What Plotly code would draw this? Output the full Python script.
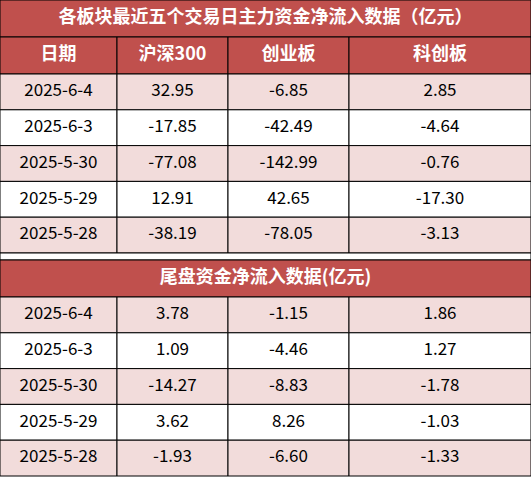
import plotly.graph_objects as go

# -------- DATOS --------
title1 = "各板块最近五个交易日主力资金净流入数据（亿元）"
title2 = "尾盘资金净流入数据(亿元)"
columns = ["日期", "沪深300", "创业板", "科创板"]
dates = ["2025-6-4", "2025-6-3", "2025-5-30", "2025-5-29", "2025-5-28"]
main_hs300 = ["32.95", "-17.85", "-77.08", "12.91", "-38.19"]
main_cyb = ["-6.85", "-42.49", "-142.99", "42.65", "-78.05"]
main_kcb = ["2.85", "-4.64", "-0.76", "-17.30", "-3.13"]
tail_hs300 = ["3.78", "1.09", "-14.27", "3.62", "-1.93"]
tail_cyb = ["-1.15", "-4.46", "-8.83", "8.26", "-6.60"]
tail_kcb = ["1.86", "1.27", "-1.78", "-1.03", "-1.33"]

RED = "#C0504D"
PINK = "#F2DCDB"
W, H = 531, 477
col_x = [0, 117, 228, 349, 531]
row_h = 35.8
font = "Noto Sans CJK SC"

shapes = []
tx, ty, tt, tc, ts = [], [], [], [], []

def cell(x0, x1, y0, y1, fill):
    shapes.append(dict(type="rect", xref="x", yref="y", x0=x0, x1=x1, y0=y0, y1=y1,
                       fillcolor=fill, line=dict(color="black", width=1), layer="below"))

def text(x, y, s, color="black", size=17):
    tx.append(x); ty.append(y); tt.append(s); tc.append(color); ts.append(size)

def block(top, title, header, cols):
    cell(0, W, top, top + 37, RED)
    text(W / 2, top + 18.5, "<b>" + title + "</b>", "white", 18)
    y = top + 37
    if header:
        for j, c in enumerate(columns):
            cell(col_x[j], col_x[j + 1], y, y + 37, RED)
            text((col_x[j] + col_x[j + 1]) / 2, y + 18.5, "<b>" + c + "</b>", "white", 18)
        y += 37
    for i in range(len(dates)):
        fill = PINK if i % 2 == 0 else "white"
        vals = [dates[i]] + [c[i] for c in cols]
        for j, v in enumerate(vals):
            cell(col_x[j], col_x[j + 1], y, y + row_h, fill)
            text((col_x[j] + col_x[j + 1]) / 2, y + row_h / 2, v)
        y += row_h
    return y

end1 = block(0, title1, True, [main_hs300, main_cyb, main_kcb])
cell(0, W, end1, end1 + 7, "white")
block(end1 + 7, title2, False, [tail_hs300, tail_cyb, tail_kcb])

fig = go.Figure(go.Scatter(x=tx, y=ty, text=tt, mode="text", hoverinfo="skip",
                           textfont=dict(color=tc, size=ts, family=font)))
fig.update_layout(
    autosize=True, margin=dict(l=0, r=0, t=0, b=0),
    shapes=shapes, showlegend=False,
    plot_bgcolor="white", paper_bgcolor="white",
    xaxis=dict(range=[0, W], visible=False, fixedrange=True),
    yaxis=dict(range=[H, 0], visible=False, fixedrange=True),
)
fig.write_html("out.html", default_width="100vw", default_height="100vh",
               include_plotlyjs=True, config={"displayModeBar": False})
with open("out.html", encoding="utf-8") as f:
    html = f.read()
html = html.replace("<body>", '<body style="margin:0;overflow:hidden">', 1)
with open("out.html", "w", encoding="utf-8") as f:
    f.write(html)
